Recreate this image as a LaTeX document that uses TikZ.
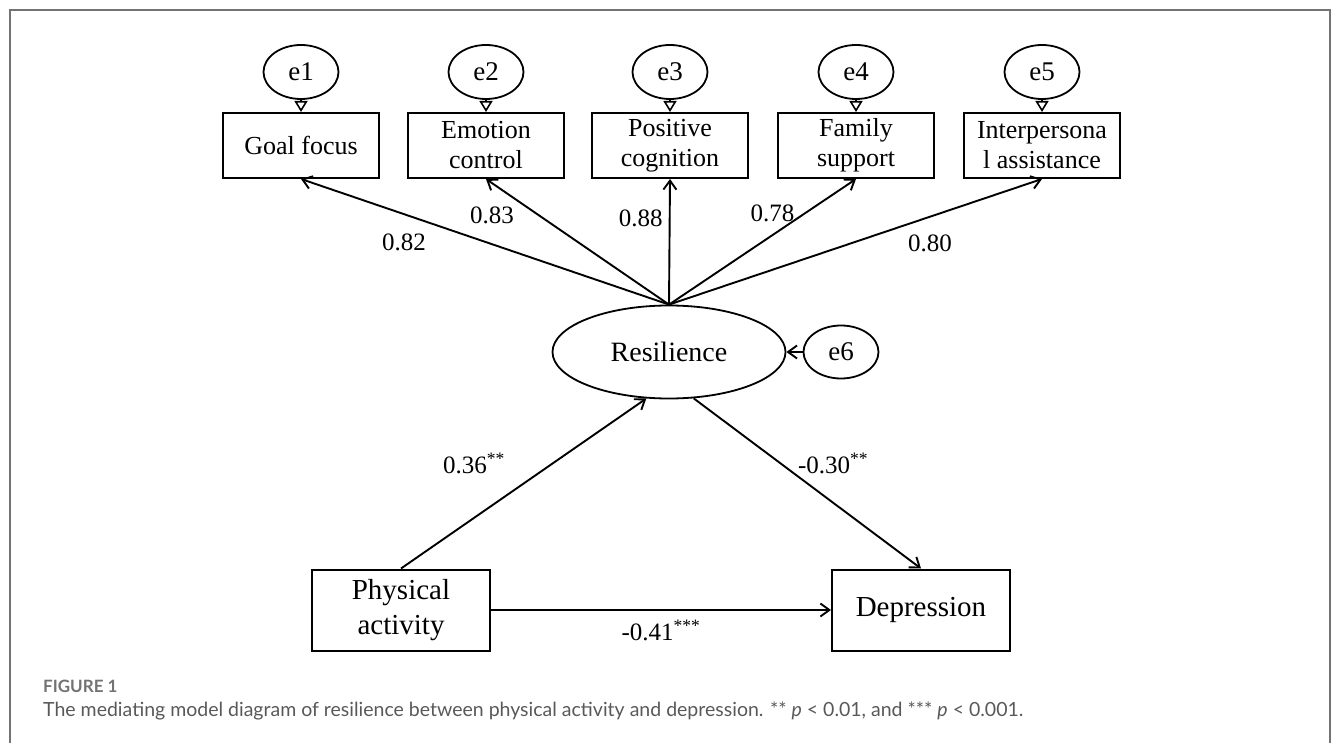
\documentclass[tikz,border=0pt]{standalone}
\usepackage{fontspec}
\setmainfont{Liberation Serif}
\newfontfamily\capfont{Lato}
\usetikzlibrary{arrows.meta,shapes.geometric,positioning}

\begin{document}
\begin{tikzpicture}[x=1pt,y=-1pt,
  >={Straight Barb[length=9pt,width=13pt]},
  every node/.style={inner sep=0pt},
  obs/.style={draw,line width=2pt,minimum width=156pt,minimum height=65pt,align=center,font=\fontsize{26}{30}\selectfont},
  obsbig/.style={draw,line width=2pt,minimum width=178pt,minimum height=81pt,align=center,font=\fontsize{29}{35}\selectfont},
  err/.style={draw,ellipse,line width=1.8pt,minimum width=75pt,minimum height=54pt,font=\fontsize{27}{30}\selectfont},
  coef/.style={font=\fontsize{25}{28}\selectfont},
  errarrow/.style={-{Triangle[open,length=11pt,width=13pt]},line width=1.6pt},
  path/.style={->,line width=1.9pt}]
\useasboundingbox (0,0) rectangle (1335,743);
\draw[black!55,line width=1.5pt] (10,743) -- (10,10) -- (1330,10) -- (1330,743);
% indicators
\node[obs] (goal) at (301,145.5) {Goal focus};
\node[obs] (emot) at (486,145.5) {Emotion\\control};
\node[obs] (posc) at (670,145.5) {Positive\\cognition};
\node[obs] (fams) at (856,145.5) {Family\\support};
\node[obs] (inta) at (1042,145.5) {Interpersona\\l assistance};
% error terms
\node[err] (e1) at (301,72) {e1};
\node[err] (e2) at (486,72) {e2};
\node[err] (e3) at (670,72) {e3};
\node[err] (e4) at (856,72) {e4};
\node[err] (e5) at (1042,72) {e5};
\path[errarrow] (e1) edge (goal) (e2) edge (emot) (e3) edge (posc) (e4) edge (fams) (e5) edge (inta);
% latent variable
\node[draw,ellipse,line width=1.8pt,minimum width=233pt,minimum height=93pt,font=\fontsize{28}{30}\selectfont] (res) at (669,352) {Resilience};
\node[err,minimum height=53pt] (e6) at (841,352) {e6};
\path[path] (e6) edge (res);
% loadings
\path[path] (res.north) edge node[coef,pos=0.72,yshift=-28pt] {0.82} (goal.south);
\path[path] (res.north) edge node[coef,pos=0.71,xshift=-47pt] {0.83} (emot.south);
\path[path] (res.north) edge node[coef,pos=0.685,xshift=-29pt] {0.88} (posc.south);
\path[path] (res.north) edge node[coef,pos=0.73,xshift=-33pt] {0.78} (fams.south);
\path[path] (res.north) edge node[coef,pos=0.70,yshift=-27pt] {0.80} (inta.south);
% structural part
\node[obsbig] (phys) at (401,610) {Physical\\activity};
\node[obsbig] (depr) at (921,610) {Depression};
\path[path] (phys.north) edge node[coef,pos=0.62,xshift=-79pt] {0.36\textsuperscript{**}} (res.244);
\path[path] (res.-62) edge node[coef,pos=0.38,xshift=53pt] {-0.30\textsuperscript{**}} (depr.north);
\path[path] (phys) edge node[coef,pos=0.5,yshift=-20pt] {-0.41\textsuperscript{***}} (depr);
% caption
\node[anchor=base west,text=black!55,font=\capfont\bfseries\fontsize{17}{19}\selectfont] (fig) at (43,692) {FIGURE 1};
\node[anchor=base west,text=black!65,font=\capfont\fontsize{19.5}{22}\selectfont] (cap) at (43,716) {The mediating model diagram of resilience between physical activity and depression. ** \textit{p} < 0.01, and *** \textit{p} < 0.001.};
\end{tikzpicture}
\end{document}
